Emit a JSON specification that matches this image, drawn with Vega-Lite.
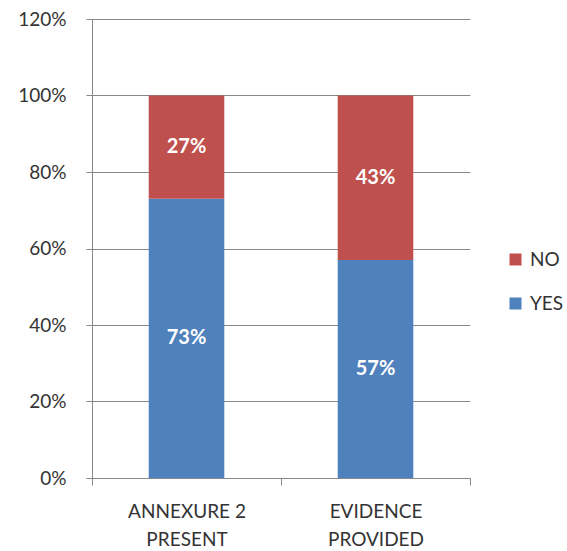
{
  "$schema": "https://vega.github.io/schema/vega-lite/v6.json",
  "autosize": {"type": "none"},
  "width": 378,
  "height": 459,
  "padding": {"left": 92, "top": 19, "right": 97, "bottom": 73},
  "background": "white",
  "config": {"view": {"stroke": null}, "font": "Lato"},
  "data": {"values": [
    {"cat": "ANNEXURE 2 PRESENT", "type": "YES", "value": 0.73},
    {"cat": "ANNEXURE 2 PRESENT", "type": "NO", "value": 0.27},
    {"cat": "EVIDENCE PROVIDED", "type": "YES", "value": 0.57},
    {"cat": "EVIDENCE PROVIDED", "type": "NO", "value": 0.43}
  ]},
  "transform": [
    {"stack": "value", "groupby": ["cat"], "as": ["v0", "v1"], "sort": [{"field": "type", "order": "descending"}]},
    {"calculate": "(datum.v0 + datum.v1) / 2", "as": "mid"}
  ],
  "encoding": {
    "x": {"field": "cat", "type": "nominal", "title": null,
      "scale": {"paddingInner": 0, "paddingOuter": 0},
      "axis": {"labelAngle": 0, "tickBand": "extent", "domainColor": "#888888", "tickColor": "#888888", "tickSize": 7,
        "labelFontSize": 19, "labelColor": "#333333", "labelPadding": 17, "labelLineHeight": 28,
        "labelExpr": "datum.value == 'ANNEXURE 2 PRESENT' ? ['ANNEXURE 2', 'PRESENT'] : datum.value == 'EVIDENCE PROVIDED' ? ['EVIDENCE', 'PROVIDED'] : ''"}}
  },
  "layer": [
    {
      "mark": {"type": "bar", "width": {"band": 0.4}},
      "encoding": {
        "y": {"field": "v0", "type": "quantitative", "title": null,
          "scale": {"domain": [0, 1.2], "nice": false},
          "axis": {"format": ".0%", "values": [0, 0.2, 0.4, 0.6, 0.8, 1.0, 1.2], "gridColor": "#888888", "domainColor": "#888888",
            "tickColor": "#888888", "tickSize": 6, "labelFontSize": 19, "labelColor": "#333333", "labelPadding": 20}},
        "y2": {"field": "v1"},
        "color": {"field": "type", "type": "nominal", "title": null,
          "scale": {"domain": ["NO", "YES"], "range": ["#C0504D", "#4F81BD"]},
          "legend": {"orient": "none", "legendX": 414, "legendY": 231, "symbolType": "square", "symbolSize": 144,
            "symbolStrokeWidth": 0, "labelFontSize": 19, "labelColor": "#333333", "rowPadding": 24, "labelOffset": 5}}
      }
    },
    {
      "mark": {"type": "text", "color": "white", "fontWeight": "bold", "fontSize": 20},
      "encoding": {
        "y": {"field": "mid", "type": "quantitative"},
        "text": {"field": "value", "type": "quantitative", "format": ".0%"}
      }
    }
  ]
}
